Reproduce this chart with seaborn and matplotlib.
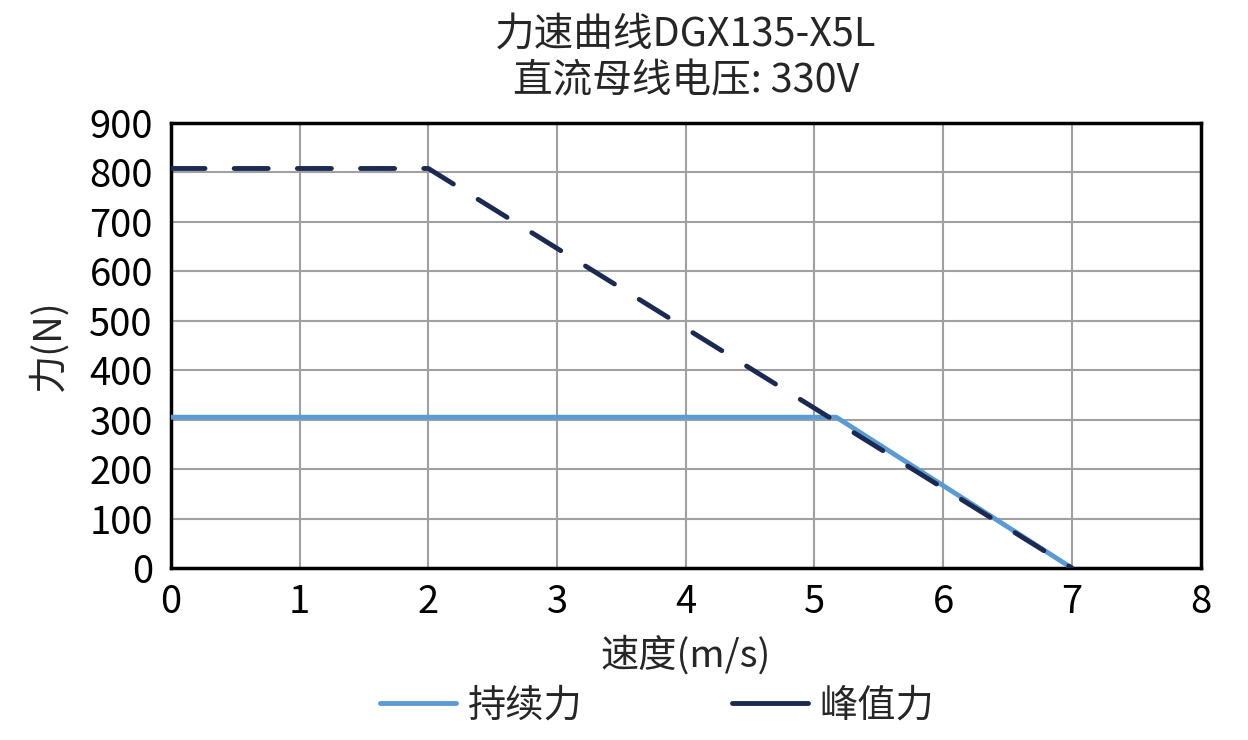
import matplotlib
matplotlib.use("Agg")
import matplotlib.pyplot as plt
from matplotlib.lines import Line2D
import seaborn as sns
import pandas as pd

title = "力速曲线DGX135-X5L\n直流母线电压: 330V"
x_label = "速度(m/s)"
y_label = "力(N)"
series_names = ["持续力", "峰值力"]
cont_speed = [0, 5.17, 7.0]
cont_force = [305, 305, 0]
peak_speed = [0, 2.0, 7.0]
peak_force = [808, 808, 0]
x_ticks = [0, 1, 2, 3, 4, 5, 6, 7, 8]
y_ticks = [0, 100, 200, 300, 400, 500, 600, 700, 800, 900]
colors = ["#5B9BD5", "#1B2A52"]

sns.set_theme(style="white")
plt.rcParams['font.family'] = ['Noto Sans CJK SC', 'DejaVu Sans']

fs = 27.5
fig = plt.figure(figsize=(12.48, 7.4), dpi=100)
ax = fig.add_axes([0.137, 0.2324, 0.825, 0.6014])

df_c = pd.DataFrame({"x": cont_speed, "y": cont_force})
df_p = pd.DataFrame({"x": peak_speed, "y": peak_force})
sns.lineplot(data=df_c, x="x", y="y", ax=ax, color=colors[0], linewidth=3.5,
             sort=False, estimator=None, zorder=3)
sns.lineplot(data=df_p, x="x", y="y", ax=ax, color=colors[1], linewidth=3.5,
             sort=False, estimator=None, zorder=4)
ax.lines[1].set_dashes([7.0, 6.0])
ax.lines[1].set_dash_capstyle("round")
ax.lines[0].set_solid_capstyle("butt")

ax.set_xlim(0, 8)
ax.set_ylim(0, 900)
ax.set_xticks(x_ticks)
ax.set_yticks(y_ticks)
ax.tick_params(axis="y", labelsize=fs, colors="black", length=0, pad=13)
ax.tick_params(axis="x", labelsize=fs, colors="black", length=0, pad=11)
ax.grid(True, color="#A0A0A0", linewidth=1.5)
for s in ax.spines.values():
    s.set_color("black")
    s.set_linewidth(2.5)
ax.set_xlabel(x_label, fontsize=fs, labelpad=10)
ax.set_ylabel(y_label, fontsize=fs, labelpad=15)
ax.set_title(title, fontsize=28.5, pad=22, linespacing=1.22)

handles = [Line2D([0], [0], color=colors[0], lw=3.5, solid_capstyle="round"),
           Line2D([0], [0], color=colors[1], lw=3.5, solid_capstyle="round")]
fig.legend(handles, series_names, loc="center", bbox_to_anchor=(0.5265, 0.046), ncol=2,
           frameon=False, fontsize=fs, handlelength=2.0, columnspacing=3.9, handletextpad=0.3)

fig.savefig("out.png", dpi=100)
